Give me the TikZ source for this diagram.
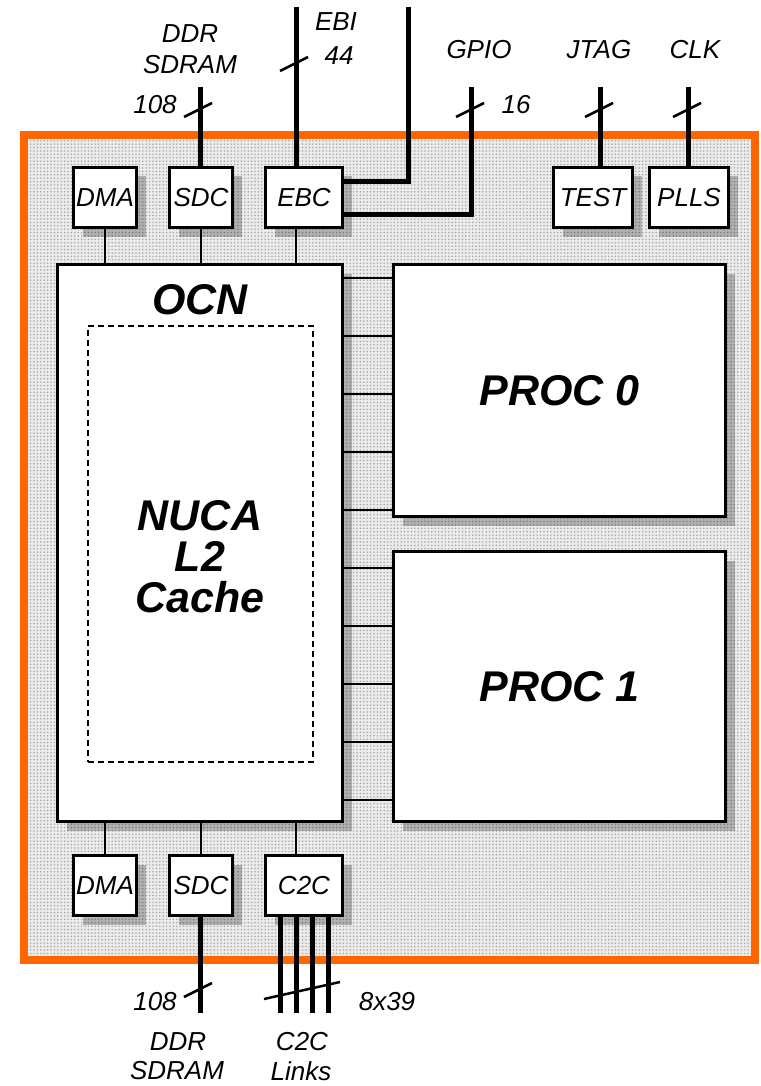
\documentclass[tikz,border=0pt]{standalone}
\usepackage{fontspec}
\setmainfont{Liberation Sans}
\usetikzlibrary{shadows,patterns.meta}
\definecolor{frameor}{HTML}{FF6600}
\begin{document}
\begin{tikzpicture}[x=1pt,y=-1pt,
  lbl/.style={font=\fontsize{26}{28}\selectfont\itshape, inner sep=0pt},
  big/.style={font=\fontsize{43}{41}\selectfont\bfseries\itshape, inner sep=0pt, align=center},
  shad/.style={drop shadow={shadow xshift=9pt,shadow yshift=-9pt,fill=black,opacity=0.25}},
  box/.style={draw, line width=3pt, fill=white, inner sep=0pt, minimum width=63pt, minimum height=60pt, shad, lbl},
  wbox/.style={box, minimum width=77pt},
  bigbox/.style={draw, line width=3pt, fill=white, inner sep=0pt, shad},
  bus/.style={line width=5pt},
  thin/.style={line width=2pt},
  slash/.style={line width=2.5pt},
  orangeframe/.style={draw=frameor, line width=8pt}
]
\useasboundingbox (0,0) rectangle (760,1086);
% background die
\fill[gray!16] (24,135) rectangle (755,960);
\fill[pattern={Dots[distance=3.4pt,radius=0.85pt]}, pattern color=gray!70] (24,135) rectangle (755,960);
\draw[orangeframe] (24,135) rectangle (755,960);

% main blocks
\node[bigbox, minimum width=285pt, minimum height=557pt] (ocn) at (200,543) {};
\node[big] (ocnt) at (200,300) {OCN};
\node[draw, line width=2pt, dash pattern=on 6pt off 4pt, minimum width=225pt, minimum height=436pt, inner sep=0pt] (nuca) at (200.5,544) {};
\node[big] (nucat) at (200,557) {NUCA\\L2\\Cache};
\node[bigbox, minimum width=332pt, minimum height=252pt, big] (proc0) at (559.5,390.5) {PROC 0};
\node[bigbox, minimum width=332pt, minimum height=270pt, big] (proc1) at (559.5,686.5) {PROC 1};

% top small blocks
\node[box] (dmaT) at (105,197.5) {DMA};
\node[box] (sdcT) at (201,197.5) {SDC};
\node[wbox] (ebc) at (304,197.5) {EBC};
\node[wbox, minimum width=79pt] (test) at (593,197.5) {TEST};
\node[wbox, minimum width=79pt] (plls) at (689,197.5) {PLLS};

% bottom small blocks
\node[box] (dmaB) at (105,885.5) {DMA};
\node[box] (sdcB) at (201,885.5) {SDC};
\node[wbox] (c2c) at (304,885.5) {C2C};

% thin connections to OCN
\draw[thin] (dmaT.south) -- (dmaT.south |- ocn.north);
\draw[thin] (sdcT.south) -- (sdcT.south |- ocn.north);
\draw[thin] (ebc.south -| 296,0) -- (ocn.north -| 296,0);
\draw[thin] (dmaB.north) -- (dmaB.north |- ocn.south);
\draw[thin] (sdcB.north) -- (sdcB.north |- ocn.south);
\draw[thin] (c2c.north -| 296,0) -- (ocn.south -| 296,0);

% stubs OCN -> PROC
\foreach \yy in {278,336,394,452,510} {
  \coordinate (s) at (0,\yy);
  \draw[thin] (ocn.east |- s) -- (proc0.west |- s);
}
\foreach \yy in {568,626,684,742,800} {
  \coordinate (s) at (0,\yy);
  \draw[thin] (ocn.east |- s) -- (proc1.west |- s);
}

% top buses
\coordinate (ddrT) at (200,87);
\draw[bus] (ddrT) -- (sdcT.north -| ddrT);
\draw[slash] (184,117) -- (212,103);

\coordinate (ebiA) at (296,7);
\draw[bus] (ebiA) -- (ebc.north -| ebiA);
\draw[slash] (280,71) -- (308,57);

\coordinate (ebiB) at (408,7);
\coordinate (ebiBc) at (408,182);
\draw[bus] (ebiB) -- (ebiBc) -- (ebc.east |- ebiBc);

\coordinate (gpio) at (471,87);
\coordinate (gpioc) at (471,214);
\draw[bus] (gpio) -- (gpioc) -- (ebc.east |- gpioc);
\draw[slash] (456,117) -- (484,103);

\coordinate (jtag) at (600,87);
\draw[bus] (jtag) -- (test.north -| jtag);
\draw[slash] (585,117) -- (613,103);

\coordinate (clk) at (688,87);
\draw[bus] (clk) -- (plls.north -| clk);
\draw[slash] (673,117) -- (701,103);

% bottom buses
\coordinate (ddrB) at (200,1013);
\draw[bus] (sdcB.south -| ddrB) -- (ddrB);
\draw[slash] (184,997) -- (212,983);

\foreach \xx/\nm in {280/a,296/b,312/c,328/d} {
  \coordinate (l\nm) at (\xx,1013);
  \draw[bus] (c2c.south -| l\nm) -- (l\nm);
}
\draw[slash] (264,999) -- (340,982);

% labels
\node[lbl] (tDDR1) at (190,34) {DDR};
\node[lbl] (tDDR2) at (190,65) {SDRAM};
\node[lbl] (t108a) at (155,105) {108};
\node[lbl] (tEBI) at (336,22) {EBI};
\node[lbl] (t44) at (339,56) {44};
\node[lbl] (tGPIO) at (479,50) {GPIO};
\node[lbl] (t16) at (516,105) {16};
\node[lbl] (tJTAG) at (599,50) {JTAG};
\node[lbl] (tCLK) at (695,50) {CLK};

\node[lbl] (t108b) at (155,1002) {108};
\node[lbl] (t839) at (387,1002) {8x39};
\node[lbl] (tDDR3) at (178,1042) {DDR};
\node[lbl] (tDDR4) at (177,1071) {SDRAM};
\node[lbl] (tC2C) at (302,1042) {C2C};
\node[lbl] (tLinks) at (301,1071) {Links};
\end{tikzpicture}
\end{document}
